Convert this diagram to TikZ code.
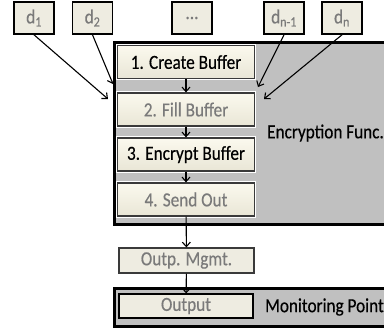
\documentclass[tikz,border=0pt]{standalone}
\usepackage{fontspec}
\setmainfont{Carlito}[FakeStretch=0.86, FakeBold=0.4]
\usetikzlibrary{arrows.meta}
\definecolor{cream}{HTML}{FBF9EE}
\definecolor{creamd}{HTML}{E9E6D6}
\definecolor{paper}{HTML}{EEECE1}
\definecolor{panel}{HTML}{C0C0C0}
\definecolor{txtgray}{HTML}{7A7A7A}
\definecolor{edge}{HTML}{3A3A3A}
\tikzset{
  every node/.style={font=\fontsize{20bp}{22bp}\selectfont, inner sep=0pt},
  dbox/.style={draw=black, line width=1.6bp, fill=paper, minimum width=40bp, minimum height=32bp, text=txtgray},
  stepbox/.style={preaction={draw=white, line width=3.5bp}, draw=edge, line width=1.2bp, top color=cream, bottom color=creamd, minimum width=137bp, minimum height=33bp},
  flatbox/.style={draw=edge, line width=1.1bp, fill=paper, minimum height=25bp, text=txtgray},
  panelbox/.style={draw=black, fill=panel},
  arr/.style={-{Straight Barb[length=4.5bp,width=8bp]}, line width=1.1bp, black},
}
\begin{document}
\begin{tikzpicture}[x=1bp,y=-1bp]
\clip (0,0) rectangle (384,336);
\fill[white] (0,0) rectangle (384,336);
% panels
\node[panelbox, line width=3bp, minimum width=290bp, minimum height=182bp, anchor=north west] (enc) at (113,41) {};
\node[panelbox, line width=2.5bp, minimum width=290bp, minimum height=38bp, anchor=north west] (mon) at (113,287) {};
\node[anchor=west] (enct) at (267,133) {Encryption Func.};
\node[anchor=west] (mont) at (265,307) {Monitoring Point};
% steps
\node[stepbox, text=black] (s1) at (186,62) {1. Create Buffer};
\node[stepbox, text=txtgray] (s2) at (186,109.5) {2. Fill Buffer};
\node[stepbox, text=black] (s3) at (186,154.5) {3. Encrypt Buffer};
\node[stepbox, text=txtgray] (s4) at (186,199.5) {4. Send Out};
\node[flatbox, minimum width=135bp] (om) at (186.5,260.5) {Outp. Mgmt.};
\node[flatbox, draw=black, minimum width=134bp, minimum height=24bp] (out) at (186,306) {Output};
% data
\node[dbox] (d1) at (34,18) {d\textsubscript{1}};
\node[dbox] (d2) at (92.5,18) {d\textsubscript{2}};
\node[dbox] (dd) at (192,18) {...};
\node[dbox] (dn1) at (284,18) {d\textsubscript{n-1}};
\node[dbox] (dn) at (342,18) {d\textsubscript{n}};
\coordinate (e1) at (108,99);
\coordinate (e2) at (113,84);
\coordinate (e3) at (258,87);
\coordinate (e4) at (264,99);
\draw[arr] (d1.south) -- (e1);
\draw[arr] (d2.south) -- (e2);
\draw[arr] (dn1.south) -- (e3);
\draw[arr] (dn.south) -- (e4);
\draw[arr] (s1) -- (s2);
\draw[arr] (s2) -- (s3);
\draw[arr] (s3) -- (s4);
\draw[arr] (s4) -- (om);
\draw[arr] (om) -- (out);
\end{tikzpicture}
\end{document}
